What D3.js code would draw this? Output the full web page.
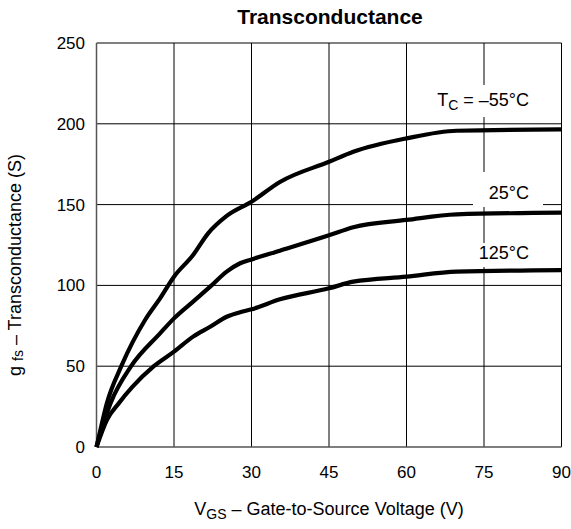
<!DOCTYPE html>
<html><head><meta charset="utf-8">
<script src="https://cdn.jsdelivr.net/npm/d3@7"></script>
<style>body{margin:0;background:#fff}svg{display:block;font-family:"Liberation Sans",Arial,sans-serif}</style>
</head><body>
<svg id="c" width="571" height="529"></svg>
<script>
const xTicks = [0, 15, 30, 45, 60, 75, 90];
const yTicks = [0, 50, 100, 150, 200, 250];
const seriesNames = ["TC = –55°C", "25°C", "125°C"];
const vgsM55 = [0, 0.9, 2.0, 4.8, 9.4, 12.3, 15, 18.7, 21.6, 25.2, 30, 35.5, 45, 49.7, 60, 69.7, 90];
const gfsM55 = [0, 12.6, 27, 50, 78.6, 92, 105.4, 118.8, 132.2, 143, 151.8, 164, 176.5, 182.7, 191, 195.7, 196.5];
const vgs25 = [0, 1.1, 2.7, 6.7, 12.3, 15, 18.7, 22, 25.2, 27.8, 30, 35.5, 45, 49.7, 60, 69.7, 90];
const gfs25 = [0, 12.6, 27, 50, 70.3, 79.6, 90, 99.2, 108.5, 113.7, 116.1, 121.5, 131, 136, 140.5, 144, 145];
const vgs125 = [0, 2.0, 4.3, 6.9, 11.1, 15, 18.7, 22, 25.2, 28.1, 30, 35.5, 45, 49.7, 60, 69.7, 90];
const gfs125 = [0, 16.7, 27, 37, 50, 59, 68.3, 74.4, 80.6, 83.7, 85.2, 91.4, 98.2, 102.3, 105.4, 108.5, 109.5];

const svg = d3.select("#c");
const L = 96.5, T = 43, W = 465, H = 404;
const x = d3.scaleLinear().domain([0, 90]).range([L, L + W]);
const y = d3.scaleLinear().domain([0, 250]).range([T + H, T]);

// grid
const g = svg.append("g");
g.selectAll(".vx").data(xTicks.slice(1)).join("line")
  .attr("x1", d => x(d)).attr("x2", d => x(d)).attr("y1", T).attr("y2", T + H)
  .attr("stroke", "#000").attr("stroke-width", 1);
g.selectAll(".hy").data(yTicks.slice(1)).join("line")
  .attr("x1", L).attr("x2", L + W).attr("y1", d => y(d)).attr("y2", d => y(d))
  .attr("stroke", "#000").attr("stroke-width", 1);
// frame left/bottom
svg.append("line").attr("x1", L).attr("x2", L).attr("y1", T).attr("y2", T + H).attr("stroke", "#555").attr("stroke-width", 1.5);
svg.append("line").attr("x1", L).attr("x2", L + W).attr("y1", T + H).attr("y2", T + H).attr("stroke", "#555").attr("stroke-width", 1.5);

// label backgrounds
const bg = [[425, 85, 115, 32], [473, 172, 70, 35], [470, 243, 70, 24]];
svg.selectAll(".bg").data(bg).join("rect")
  .attr("x", d => d[0]).attr("y", d => d[1]).attr("width", d => d[2]).attr("height", d => d[3]).attr("fill", "#fff");

// curves
const line = d3.line().x(d => x(d[0])).y(d => y(d[1])).curve(d3.curveMonotoneX);
const series = [d3.zip(vgsM55, gfsM55), d3.zip(vgs25, gfs25), d3.zip(vgs125, gfs125)];
svg.selectAll(".crv").data(series).join("path")
  .attr("d", line).attr("fill", "none").attr("stroke", "#000").attr("stroke-width", 4.2)
  .attr("stroke-linejoin", "round");

// ticks
svg.selectAll(".yt").data(yTicks).join("text")
  .attr("x", 85).attr("y", d => y(d) + 6).attr("text-anchor", "end")
  .attr("font-size", 17).text(d => d);
svg.selectAll(".xt").data(xTicks).join("text")
  .attr("x", d => x(d)).attr("y", 478).attr("text-anchor", "middle")
  .attr("font-size", 17).text(d => d);

// title
svg.append("text").attr("x", 330).attr("y", 23.5).attr("text-anchor", "middle")
  .attr("font-size", 21).attr("font-weight", "bold").text("Transconductance");

// x label
const xl = svg.append("text").attr("x", 329).attr("y", 515).attr("text-anchor", "middle").attr("font-size", 18);
xl.append("tspan").text("V");
xl.append("tspan").attr("font-size", 14).attr("dy", 4).text("GS");
xl.append("tspan").attr("dy", -4).text(" – Gate-to-Source Voltage (V)");

// y label
const yl = svg.append("text").attr("transform", "translate(21,265) rotate(-90)").attr("text-anchor", "middle").attr("font-size", 18);
yl.append("tspan").text("g ");
yl.append("tspan").attr("font-size", 14).attr("dy", 2).text("fs");
yl.append("tspan").attr("dy", -2).text(" – Transconductance (S)");

// series labels
const lab = [[529, 106], [529, 199], [529, 259]];
const t0 = svg.append("text").attr("x", lab[0][0]).attr("y", lab[0][1]).attr("text-anchor", "end").attr("font-size", 18);
t0.append("tspan").text("T");
t0.append("tspan").attr("font-size", 14).attr("dy", 4).text("C");
t0.append("tspan").attr("dy", -4).text(" = –55°C");
svg.append("text").attr("x", lab[1][0]).attr("y", lab[1][1]).attr("text-anchor", "end").attr("font-size", 18).text(seriesNames[1]);
svg.append("text").attr("x", lab[2][0]).attr("y", lab[2][1]).attr("text-anchor", "end").attr("font-size", 18).text(seriesNames[2]);
</script>
</body></html>
